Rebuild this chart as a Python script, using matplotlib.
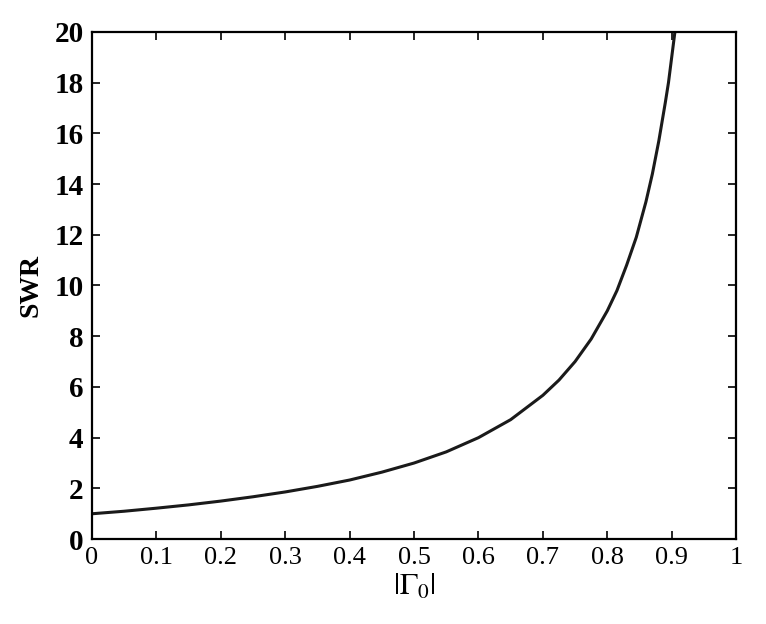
import matplotlib.pyplot as plt

# values
gamma = [0.0, 0.05, 0.1, 0.15, 0.2, 0.25, 0.3, 0.35, 0.4, 0.45, 0.5, 0.55,
         0.6, 0.65, 0.7, 0.725, 0.75, 0.775, 0.8, 0.815, 0.83, 0.845, 0.86,
         0.87, 0.88, 0.89, 0.895, 0.9, 0.905]
swr = [1.0, 1.1, 1.22, 1.35, 1.5, 1.67, 1.86, 2.08, 2.33, 2.64, 3.0, 3.44,
       4.0, 4.71, 5.67, 6.27, 7.0, 7.89, 9.0, 9.8, 10.8, 11.9, 13.3,
       14.4, 15.7, 17.2, 18.0, 19.0, 20.0]

xticks = [0, 0.1, 0.2, 0.3, 0.4, 0.5, 0.6, 0.7, 0.8, 0.9, 1]
xticklabels = ['0', '0.1', '0.2', '0.3', '0.4', '0.5', '0.6', '0.7', '0.8', '0.9', '1']
yticks = [0, 2, 4, 6, 8, 10, 12, 14, 16, 18, 20]

plt.rcParams['font.family'] = ['Liberation Serif', 'DejaVu Serif']
plt.rcParams['mathtext.fontset'] = 'stix'

fig = plt.figure(figsize=(7.66, 6.24), dpi=100)
ax = fig.add_axes([0.120, 0.136, 0.841, 0.813])

ax.plot(gamma, swr, color='#1a1a1a', linewidth=2.2)

ax.set_xlim(0, 1)
ax.set_ylim(0, 20)
ax.set_xticks(xticks)
ax.set_xticklabels(xticklabels, fontsize=19)
ax.set_yticks(yticks)
ax.set_yticklabels([str(t) for t in yticks], fontsize=21, fontweight='bold')
ax.tick_params(direction='in', top=True, right=True, length=6, width=1.2, pad=6)
for s in ax.spines.values():
    s.set_linewidth(1.6)

ax.set_xlabel(r'$|\Gamma_0|$', fontsize=22, labelpad=2)
ax.set_ylabel('SWR', fontsize=20, fontweight='bold', labelpad=8)

fig.savefig('out.png', dpi=100)
